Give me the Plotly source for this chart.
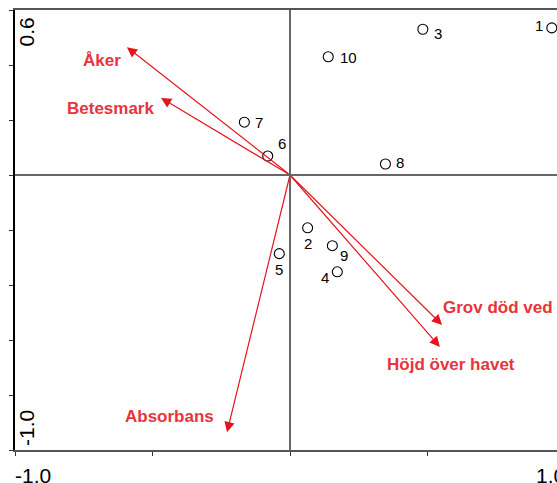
import plotly.graph_objects as go

# ---- data ----
site_labels = ["1", "2", "3", "4", "5", "6", "7", "8", "9", "10"]
site_x = [0.952, 0.064, 0.483, 0.172, -0.039, -0.081, -0.166, 0.347, 0.154, 0.139]
site_y = [0.535, -0.192, 0.530, -0.352, -0.286, 0.069, 0.192, 0.040, -0.257, 0.430]

env_names = ["Åker", "Betesmark", "Grov död ved", "Höjd över havet", "Absorbans"]
env_x = [-0.593, -0.469, 0.553, 0.545, -0.229]
env_y = [0.465, 0.280, -0.545, -0.625, -0.935]

x_tick_vals = [-1.0, -0.5, 0.0, 0.5]
y_tick_vals = [-1.0, -0.8, -0.6, -0.4, -0.2, 0.0, 0.2, 0.4, 0.6]
x_label_vals = [-1.0, 1.0]
x_label_text = ["-1.0", "1.0"]
y_label_vals = [0.6, -1.0]
y_label_text = ["0.6", "-1.0"]

# ---- styles ----
FONT = "Arial, Liberation Sans, sans-serif"
ARROW_COL = "#e5141f"
LABEL_COL = "#e8343c"
X_RANGE = [-1.0, -1.0 + 542 / 275]
Y_RANGE = [-1.0, 0.6]

# pixel offsets of site labels (from circle centre)
site_label_shift = {
    "1": (-13, 2), "2": (0, -16), "3": (15, -4), "4": (-12, -6),
    "5": (0, -16), "6": (14, 13), "7": (15, 0), "8": (15, 2),
    "9": (12, -10), "10": (20, -1),
}
# pixel offsets of environmental labels (from arrow tip)
env_label_shift = {
    "Åker": (-25, -13), "Betesmark": (-51, -10), "Grov död ved": (56, 17),
    "Höjd över havet": (11, -18), "Absorbans": (-58, 16),
}

fig = go.Figure()

fig.add_trace(go.Scatter(
    x=site_x, y=site_y, mode="markers",
    marker=dict(symbol="circle-open", size=10, color="black", line=dict(width=1.1)),
    hoverinfo="skip", showlegend=False, cliponaxis=False,
))

annotations = []
for lab, x, y in zip(site_labels, site_x, site_y):
    dx, dy = site_label_shift[lab]
    annotations.append(dict(
        x=x, y=y, xref="x", yref="y", text=lab, showarrow=False,
        xshift=dx, yshift=dy, font=dict(family=FONT, size=15, color="black"),
    ))

for name, x, y in zip(env_names, env_x, env_y):
    annotations.append(dict(
        x=x, y=y, xref="x", yref="y", ax=0, ay=0, axref="x", ayref="y",
        text="", showarrow=True, arrowhead=2, arrowsize=1.7, arrowwidth=1.2,
        arrowcolor=ARROW_COL, standoff=0, startstandoff=0,
    ))
    dx, dy = env_label_shift[name]
    annotations.append(dict(
        x=x, y=y, xref="x", yref="y", text="<b>%s</b>" % name, showarrow=False,
        xshift=dx, yshift=dy, font=dict(family=FONT, size=17, color=LABEL_COL),
    ))

# axis tick labels
span_x = X_RANGE[1] - X_RANGE[0]
for v, t in zip(x_label_vals, x_label_text):
    px = (v - X_RANGE[0]) / span_x
    annotations.append(dict(
        x=px, y=0, xref="paper", yref="paper", text=t, showarrow=False,
        xanchor="left" if v < 0 else "right", yanchor="middle",
        xshift=-2 if v < 0 else 2, yshift=-25,
        font=dict(family=FONT, size=21, color="black"),
    ))
span_y = Y_RANGE[1] - Y_RANGE[0]
for v, t in zip(y_label_vals, y_label_text):
    py = (v - Y_RANGE[0]) / span_y
    annotations.append(dict(
        x=0, y=py, xref="paper", yref="paper", text=t, showarrow=False,
        textangle=-90, xanchor="center",
        yanchor="top" if v > 0 else "bottom",
        xshift=11, yshift=-6 if v > 0 else 2,
        font=dict(family=FONT, size=21, color="black"),
    ))

fig.update_layout(
    width=557, height=483,
    margin=dict(l=15, r=0, t=10, b=33),
    plot_bgcolor="white", paper_bgcolor="white",
    annotations=annotations,
    xaxis=dict(
        range=X_RANGE, showgrid=False, zeroline=True, zerolinecolor="#666",
        zerolinewidth=1.5, showline=True, linecolor="#555", linewidth=2,
        mirror=True, ticks="outside", ticklen=4, tickwidth=1.2, tickcolor="#333",
        tickvals=x_tick_vals, showticklabels=False,
    ),
    yaxis=dict(
        range=Y_RANGE, showgrid=False, zeroline=True, zerolinecolor="#666",
        zerolinewidth=1.5, showline=True, linecolor="black", linewidth=2,
        ticks="outside", ticklen=4, tickwidth=1.2, tickcolor="#333",
        tickvals=y_tick_vals, showticklabels=False,
    ),
)

# remove the default page margin so the figure fills the window exactly
fig.write_html(
    "out.html",
    config={"displayModeBar": False},
    post_script="document.body.style.margin='0';"
                "document.documentElement.style.overflow='hidden';",
)
